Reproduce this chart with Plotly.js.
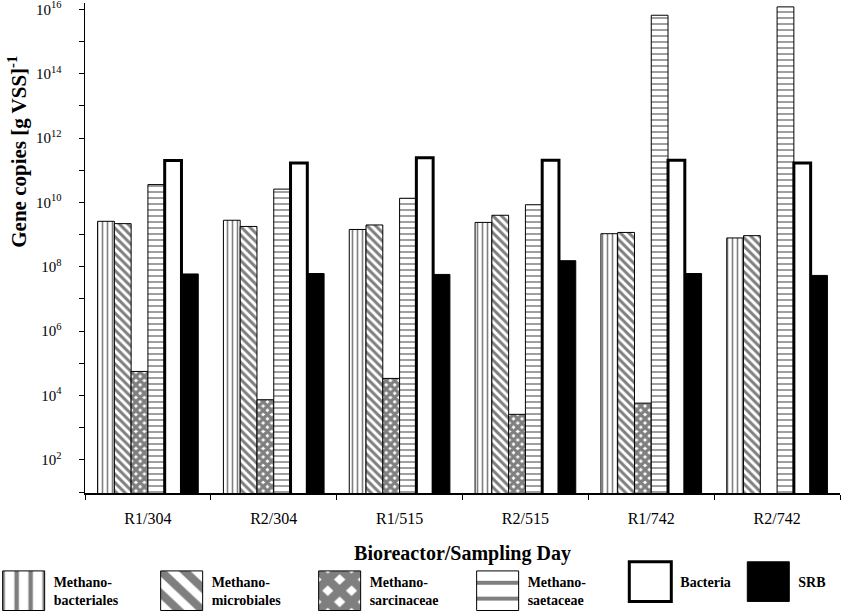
<!DOCTYPE html>
<html>
<head>
<meta charset="utf-8">
<script src="https://cdn.plot.ly/plotly-3.0.1.min.js"></script>
<style>
html,body{margin:0;padding:0;background:#fff;}
#chart{width:850px;height:612px;}
#chart .infolayer g, #chart .infolayer path, #chart .infolayer rect { clip-path: none !important; }
</style>
</head>
<body>
<div id="chart"></div>
<script>
var categories = ["R1/304", "R2/304", "R1/515", "R2/515", "R1/742", "R2/742"];
var methanobacteriales = [2.6e9, 2.8e9, 1.45e9, 2.4e9, 1.07e9, 7.9e8];
var methanomicrobiales = [2.2e9, 1.8e9, 2.0e9, 4.0e9, 1.17e9, 9.3e8];
var methanosarcinaceae = [5.6e4, 7.4e3, 3.4e4, 2.6e3, 5.8e3, null];
var methanosaetaceae = [3.6e10, 2.6e10, 1.35e10, 8.5e9, 6.6e15, 1.2e16];
var bacteria = [2.0e11, 1.7e11, 2.45e11, 2.05e11, 2.05e11, 1.7e11];
var srb = [6.0e7, 6.2e7, 5.8e7, 1.55e8, 6.2e7, 5.4e7];
var seriesNames = ["Methano-<br>bacteriales", "Methano-<br>microbiales", "Methano-<br>sarcinaceae", "Methano-<br>saetaceae", "Bacteria", "SRB"];
var majorExponents = [2, 4, 6, 8, 10, 12, 14, 16];
var minorExponents = [1, 3, 5, 7, 9, 11, 13, 15];
var yTitle = "<b>Gene copies [g VSS]<sup>-1</sup></b>";
var xTitle = "<b>Bioreactor/Sampling Day</b>";

var yTickVals = majorExponents.map(function (e) { return Math.pow(10, e); });
var yTickText = majorExponents.map(function (e) { return "10<sup>" + e + "</sup>"; });
var yMinorVals = minorExponents.map(function (e) { return Math.pow(10, e); });

function barTrace(name, values, marker, legendId) {
  return {type: "bar", name: name, x: categories, y: values, marker: marker, legend: legendId, hoverinfo: "x+y+name"};
}
var thin = {color: "#000", width: 1};
var data = [
  barTrace(seriesNames[0], methanobacteriales, {color: "#fff", line: thin,
    pattern: {shape: "|", fgcolor: "#000", bgcolor: "#fff", size: 5, solidity: 0.32, fillmode: "overlay"}}, "legend"),
  barTrace(seriesNames[1], methanomicrobiales, {color: "#fff", line: thin,
    pattern: {shape: "\\", fgcolor: "#000", bgcolor: "#fff", size: 6, solidity: 0.5, fillmode: "overlay"}}, "legend"),
  barTrace(seriesNames[2], methanosarcinaceae, {color: "#fff", line: thin,
    pattern: {shape: "x", fgcolor: "#000", bgcolor: "#fff", size: 6, solidity: 0.78, fillmode: "overlay"}}, "legend"),
  barTrace(seriesNames[3], methanosaetaceae, {color: "#fff", line: thin,
    pattern: {shape: "-", fgcolor: "#000", bgcolor: "#fff", size: 6, solidity: 0.25, fillmode: "overlay"}}, "legend"),
  barTrace(seriesNames[4], bacteria, {color: "#fff", line: {color: "#000", width: 3}}, "legend2"),
  barTrace(seriesNames[5], srb, {color: "#000", line: thin}, "legend2")
];

var serif = "Liberation Serif, Times New Roman, serif";
var legendCommon = {
  orientation: "h", xanchor: "left", y: -0.149, yanchor: "top", valign: "middle",
  font: {family: serif, size: 14, color: "#000", weight: "bold"},
  traceorder: "normal", itemclick: false, itemdoubleclick: false,
  itemwidth: 50, tracegroupgap: 0, entrywidthmode: "pixels"
};
var legend1 = Object.assign({}, legendCommon, {x: -0.121, entrywidth: 93});
var legend2 = Object.assign({}, legendCommon, {x: 0.709, entrywidth: 53});

var layout = {
  width: 850, height: 612,
  margin: {l: 85, r: 10, t: 3, b: 119, autoexpand: false},
  paper_bgcolor: "#fff", plot_bgcolor: "#fff",
  barmode: "group", bargap: 0.2, bargroupgap: 0,
  showlegend: true,
  font: {family: serif, color: "#000", size: 14},
  xaxis: {
    type: "category",
    showline: true, linecolor: "#000", linewidth: 1.5,
    ticks: "outside", ticklen: 5, tickcolor: "#000", tickson: "boundaries",
    ticklabelstandoff: 10,
    showgrid: false, zeroline: false,
    tickfont: {family: serif, size: 16, color: "#000"},
    title: {text: xTitle, font: {family: serif, size: 20, color: "#000"}, standoff: 20}
  },
  yaxis: {
    type: "log", range: [0.97, 16.2],
    showline: true, linecolor: "#000", linewidth: 1.5,
    ticks: "outside", ticklen: 5, tickcolor: "#000",
    tickmode: "array", tickvals: yTickVals, ticktext: yTickText,
    ticklabelstandoff: 14, ticklabeloverflow: "allow",
    minor: {tickmode: "array", tickvals: yMinorVals, ticks: "outside", ticklen: 5, tickcolor: "#000", showgrid: false},
    showgrid: false, zeroline: false,
    tickfont: {family: serif, size: 15, color: "#000"}
  },
  annotations: [{
    text: yTitle, xref: "paper", yref: "paper", x: -0.089, y: 0.696,
    xanchor: "center", yanchor: "middle", textangle: -90, showarrow: false,
    font: {family: serif, size: 21, color: "#000"}
  }],
  legend: legend1,
  legend2: legend2
};

Plotly.newPlot("chart", data, layout, {displayModeBar: false, staticPlot: true}).then(function (gd) {
  gd.querySelectorAll(".infolayer [clip-path]").forEach(function (el) {
    el.removeAttribute("clip-path");
  });
  gd.querySelectorAll(".legendpoints path").forEach(function (p) {
    var t = p.getAttribute("transform") || "";
    p.setAttribute("transform", t + " scale(3.5,3.3)");
    p.style.vectorEffect = "non-scaling-stroke";
  });
});
</script>
</body>
</html>
